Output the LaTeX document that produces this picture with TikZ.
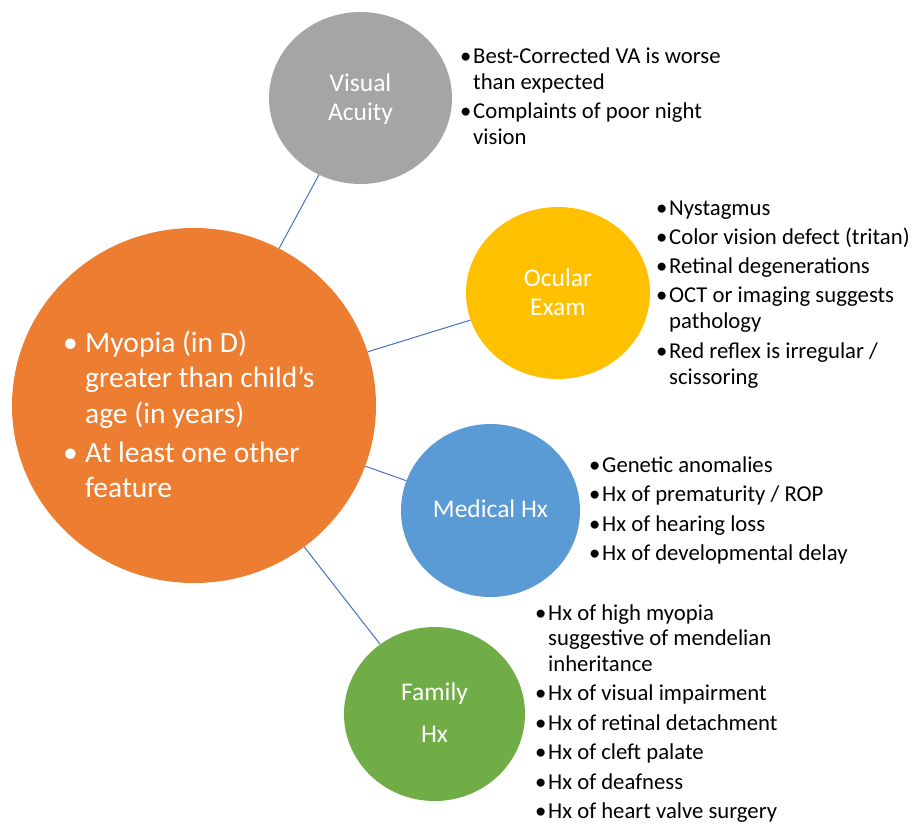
\documentclass[tikz,border=0pt]{standalone}
\usepackage{fontspec}
\setmainfont{Carlito}
\usetikzlibrary{shapes.geometric}
\definecolor{cgray}{HTML}{A5A5A5}
\definecolor{corange}{HTML}{ED7D31}
\definecolor{cyellow}{HTML}{FFC000}
\definecolor{cblue}{HTML}{5B9BD5}
\definecolor{cgreen}{HTML}{70AD47}
\definecolor{clink}{HTML}{4472C4}
\newcommand\sbul{\llap{\makebox[13pt][l]{•}}}
\newcommand\bbul{\llap{\makebox[22pt][l]{•}}}
\begin{document}
\begin{tikzpicture}[x=1pt,y=-1pt,
  blob/.style={ellipse, draw=none, inner sep=0pt},
  conn/.style={draw=clink, line width=1pt},
  lab/.style={text=white, font=\fontsize{25.5}{30}\selectfont, inner sep=0pt, anchor=base},
  itm/.style={text=black, font=\fontsize{22.7}{26}\selectfont, inner sep=0pt, anchor=base west},
  big/.style={text=white, font=\fontsize{29.5}{35}\selectfont, inner sep=0pt, anchor=base west}]
\useasboundingbox (0,0) rectangle (912,823);

% circles
\node[blob, fill=corange, minimum width=364pt, minimum height=355pt] (core) at (194,405.5) {};
\node[blob, fill=cgray, minimum width=183pt, minimum height=172pt] (va) at (360.5,98) {};
\node[blob, fill=cyellow, minimum width=184pt, minimum height=172pt] (oe) at (558,293) {};
\node[blob, fill=cblue, minimum width=179pt, minimum height=173pt] (mh) at (490.5,510.5) {};
\node[blob, fill=cgreen, minimum width=181pt, minimum height=174pt] (fh) at (434.5,714) {};

% connectors
\draw[conn] (core) -- (va);
\draw[conn] (core) -- (oe);
\draw[conn] (core) -- (mh);
\draw[conn] (core) -- (fh);

% circle labels
\node[lab] (vaA) at (360.5,91) {Visual};
\node[lab] (vaB) at (360.5,120) {Acuity};
\node[lab] (oeA) at (558,286) {Ocular};
\node[lab] (oeB) at (558,315) {Exam};
\node[lab] (mhA) at (490.5,517) {Medical Hx};
\node[lab] (fhA) at (434.5,700) {Family};
\node[lab] (fhB) at (434.5,742) {Hx};

% core text
\foreach \y/\t [count=\i] in {352/{\bbul Myopia (in D)}, 387.5/{greater than child’s}, 423/{age (in years)}, 462/{\bbul At least one other}, 497.5/{feature}}
  {\node[big] (core\i) at (85,\y) {\t};}

% Visual acuity list
\foreach \y/\t [count=\i] in {63/{\sbul Best-Corrected VA is worse}, 89/{than expected}, 118/{\sbul Complaints of poor night}, 144/{vision}}
  {\node[itm] (val\i) at (473,\y) {\t};}

% Ocular exam list
\foreach \y/\t [count=\i] in {215/{\sbul Nystagmus}, 244/{\sbul Color vision defect (tritan)}, 273/{\sbul Retinal degenerations}, 302.5/{\sbul OCT or imaging suggests}, 328.5/{pathology}, 358/{\sbul Red reflex is irregular /}, 384/{scissoring}}
  {\node[itm] (oel\i) at (669,\y) {\t};}

% Medical Hx list
\foreach \y/\t [count=\i] in {472/{\sbul Genetic anomalies}, 501.5/{\sbul Hx of prematurity / ROP}, 531/{\sbul Hx of hearing loss}, 560.5/{\sbul Hx of developmental delay}}
  {\node[itm] (mhl\i) at (602,\y) {\t};}

% Family Hx list
\foreach \y/\t [count=\i] in {620/{\sbul Hx of high myopia}, 645.5/{suggestive of mendelian}, 671/{inheritance}, 700.5/{\sbul Hx of visual impairment}, 730/{\sbul Hx of retinal detachment}, 759.5/{\sbul Hx of cleft palate}, 789/{\sbul Hx of deafness}, 818.5/{\sbul Hx of heart valve surgery}}
  {\node[itm] (fhl\i) at (548,\y) {\t};}
\end{tikzpicture}
\end{document}
